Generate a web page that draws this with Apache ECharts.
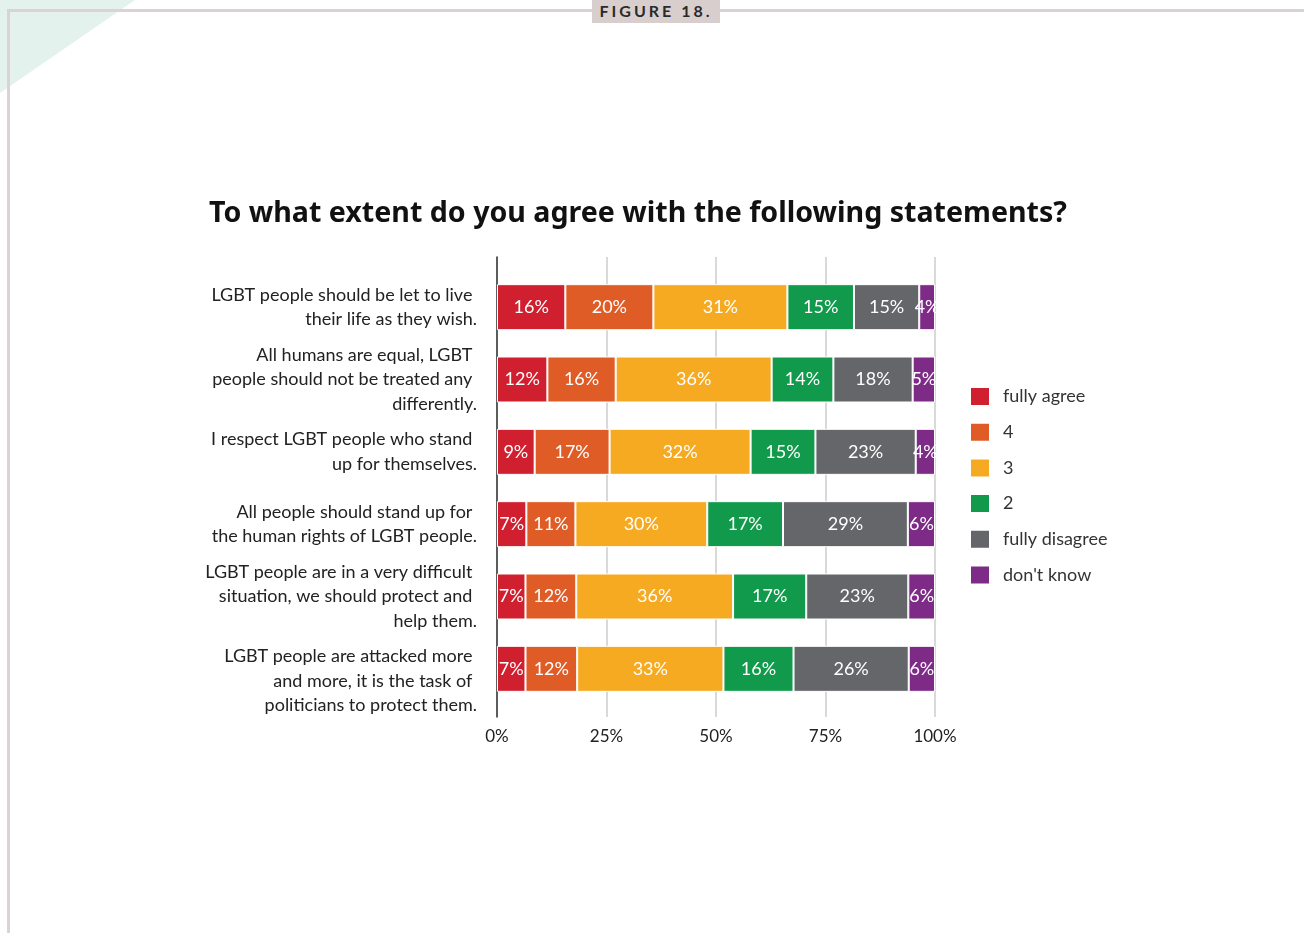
<!DOCTYPE html>
<html>
<head>
<meta charset="utf-8">
<script src="https://cdn.jsdelivr.net/npm/echarts@6/dist/echarts.min.js"></script>
<style>
  html, body { margin: 0; padding: 0; background: #fff; }
  #wrap { position: relative; width: 1304px; height: 933px; overflow: hidden; }
  #chart { position: absolute; left: 0; top: 0; width: 1304px; height: 933px; }
  #tri { position: absolute; left: 0; top: 0; width: 0; height: 0;
         border-top: 93px solid #e4f2ed; border-right: 135px solid transparent; }
  #hline { position: absolute; left: 7px; top: 9px; width: 1297px; height: 3px; background: #dcd2d2; }
  #vline { position: absolute; left: 7px; top: 9px; width: 3px; height: 924px; background: #dcd2d2; }
  #fig { position: absolute; left: 592px; top: 0; width: 128px; height: 23px; background: #d8cece;
         font-family: 'Lato', sans-serif; font-weight: bold; font-size: 16px; letter-spacing: 3px;
         color: #2a2a2a; text-align: center; line-height: 22px; }
</style>
</head>
<body>
<div id="wrap">
  <div id="tri"></div>
  <div id="hline"></div>
  <div id="vline"></div>
  <div id="fig">FIGURE 18.</div>
  <div id="chart"></div>
</div>
<script>
const categories = [
  'LGBT people should be let to live \ntheir life as they wish.',
  'All humans are equal, LGBT \npeople should not be treated any \ndifferently.',
  'I respect LGBT people who stand \nup for themselves.',
  'All people should stand up for \nthe human rights of LGBT people.',
  'LGBT people are in a very difficult \nsituation, we should protect and \nhelp them.',
  'LGBT people are attacked more \nand more, it is the task of \npoliticians to protect them.'
];
const seriesNames = ['fully agree', '4', '3', '2', 'fully disagree', "don't know"];
const fullyAgree    = [15.6, 11.5, 8.6, 6.7, 6.5, 6.5];
const four          = [20.1, 15.6, 17.1, 11.2, 11.6, 11.8];
const three         = [30.6, 35.6, 32.2, 30.1, 35.8, 33.4];
const two           = [15.2, 14.1, 14.8, 17.3, 16.7, 16.0];
const fullyDisagree = [14.9, 18.1, 22.9, 28.5, 23.3, 26.3];
const dontKnow      = [3.6, 5.1, 4.4, 6.2, 6.1, 6.0];
const xTicks = [0, 25, 50, 75, 100];

const values = [fullyAgree, four, three, two, fullyDisagree, dontKnow];
const colors = ['#d02030', '#e05c27', '#f6aa22', '#129a4c', '#646669', '#7e2b88'];
const FONT = 'Lato';

const chart = echarts.init(document.getElementById('chart'), null, { renderer: 'canvas' });

const barSeries = seriesNames.map((name, i) => ({
  name: name,
  type: 'bar',
  stack: 'total',
  xAxisIndex: 0,
  yAxisIndex: 0,
  barWidth: 46,
  itemStyle: { color: colors[i], borderColor: '#ffffff', borderWidth: 1 },
  label: {
    show: true,
    position: 'inside',
    color: '#ffffff',
    fontFamily: FONT,
    fontSize: 18,
    formatter: p => Math.round(p.value) + '%'
  },
  emphasis: { disabled: true },
  data: values[i]
}));

chart.setOption({
  animation: false,
  title: {
    text: 'To what extent do you agree with the following statements?',
    left: 633,
    textAlign: 'center',
    top: 194,
    textStyle: { fontFamily: 'Noto Sans', fontWeight: 'bold', fontSize: 28.6, color: '#111111' }
  },
  legend: {
    orient: 'vertical',
    left: 969,
    top: 386,
    padding: 0,
    itemWidth: 20,
    itemHeight: 19,
    itemGap: 14.7,
    icon: 'rect',
    data: seriesNames,
    textStyle: { fontFamily: FONT, fontSize: 18, color: '#333333', padding: [0, 0, 0, 8] },
    selectedMode: false
  },
  grid: [
    { left: 497, width: 438, top: 271, height: 434, containLabel: false },
    { left: 497, width: 438, top: 257, height: 460, containLabel: false }
  ],
  xAxis: [
    { type: 'value', gridIndex: 0, min: 0, max: 100, show: false },
    {
      type: 'value', gridIndex: 1, min: xTicks[0], max: xTicks[xTicks.length - 1], interval: 25,
      axisLine: { show: false }, axisTick: { show: false },
      splitLine: { show: true, lineStyle: { color: '#cccccc', width: 1.5 } },
      axisLabel: { fontFamily: FONT, fontSize: 17, color: '#222222', margin: 11, formatter: '{value}%' }
    }
  ],
  yAxis: [
    {
      type: 'category', gridIndex: 0, data: categories, inverse: true,
      axisLine: { show: false }, axisTick: { show: false }, splitLine: { show: false },
      axisLabel: {
        interval: 0, hideOverlap: false,
        fontFamily: FONT, fontSize: 18, color: '#222222', margin: 20, lineHeight: 24.5, align: 'right',
        formatter: (v, idx) => (idx === categories.length - 1 ? '\n' + v : v)
      }
    },
    {
      type: 'value', gridIndex: 1, min: 0, max: 1,
      axisLine: { show: true, lineStyle: { color: '#333333', width: 1.5 } },
      axisTick: { show: false }, axisLabel: { show: false }, splitLine: { show: false }
    }
  ],
  series: barSeries.concat([{ type: 'line', xAxisIndex: 1, yAxisIndex: 1, data: [], silent: true }])
});
</script>
</body>
</html>
